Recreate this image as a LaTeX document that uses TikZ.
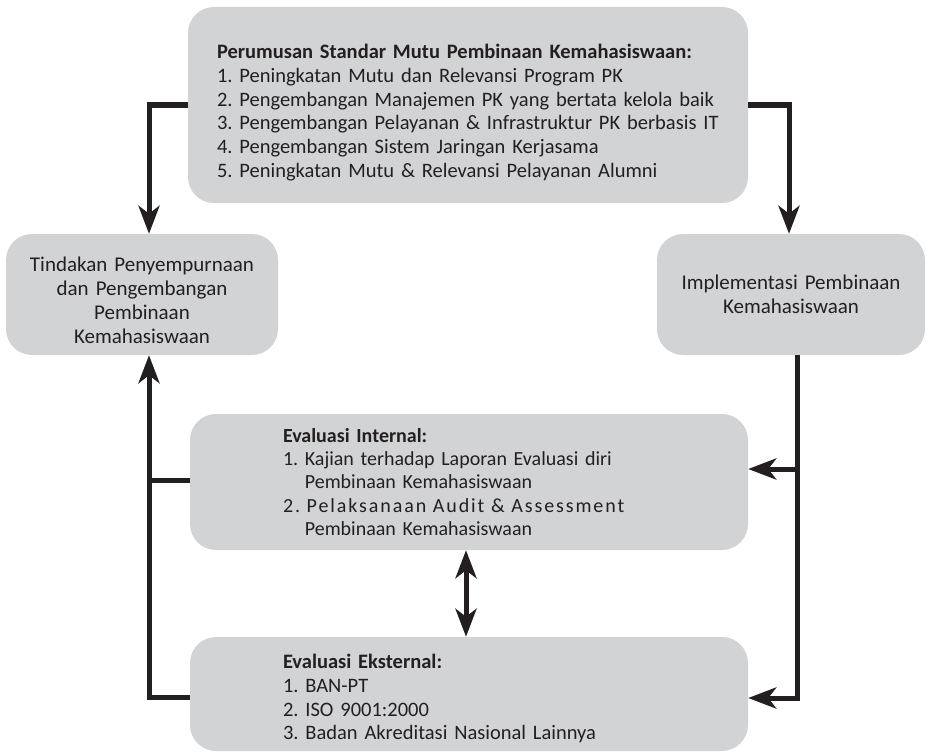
\documentclass[tikz,border=0pt]{standalone}
\usepackage{fontspec}
\setmainfont{Carlito}
\newfontfamily\renggang[LetterSpace=9.5]{Carlito}
\usetikzlibrary{arrows.meta, positioning}
\definecolor{kotak}{RGB}{209,211,212}
\definecolor{garis}{RGB}{35,31,32}
\newcommand\kirix{149}
\newcommand\kananx{797}

\begin{document}
\begin{tikzpicture}[x=1pt, y=-1pt,
    box/.style={rounded corners=26pt, fill=kotak, text=garis, inner ysep=0pt,
        font=\fontsize{20.5}{23.8}\selectfont\frenchspacing},
    turun/.style={text height=#1},
    line/.style={line width=5pt, draw=garis},
    arrow/.style={line, -{Stealth[length=28pt, width=21pt, inset=8pt]}},
    dblarrow/.style={line, {Stealth[length=28pt, width=21pt, inset=8pt]}-{Stealth[length=28pt, width=21pt, inset=8pt]}}]

    \useasboundingbox (0,0) rectangle (927,752);

    % Perumusan
    \node at (468, 105) [box, minimum width=560pt, minimum height=196pt, text width=502pt, inner xsep=29pt, align=left, turun=29.5pt] (perumusan) {%
        \textbf{Perumusan Standar Mutu Pembinaan Kemahasiswaan:}\\
        1. Peningkatan Mutu dan Relevansi Program PK\\
        2. Pengembangan Manajemen PK yang bertata kelola baik\\
        3. Pengembangan Pelayanan \& Infrastruktur PK berbasis IT\\
        4. Pengembangan Sistem Jaringan Kerjasama\\
        5. Peningkatan Mutu \& Relevansi Pelayanan Alumni};

    % Tindakan dan Implementasi
    \node at (142, 294.5) [box, minimum width=272pt, minimum height=121pt, text width=250pt, align=center, font=\fontsize{21}{24}\selectfont, turun=25.5pt] (tindakan) {%
        Tindakan Penyempurnaan\\ dan Pengembangan\\ Pembinaan\\ Kemahasiswaan};
    \node at (791, 294.5) [box, minimum width=268pt, minimum height=121pt, text width=250pt, align=center, font=\fontsize{21}{24}\selectfont] (implementasi) {%
        Implementasi Pembinaan\\ Kemahasiswaan};

    % Evaluasi
    \node at (469, 482) [box, minimum width=558pt, minimum height=136pt, text width=372pt, inner xsep=93pt, align=left, font=\fontsize{20}{23.3}\selectfont\frenchspacing] (internal) {%
        \textbf{Evaluasi Internal:}\\
        1. Kajian terhadap Laporan Evaluasi diri\\
        \phantom{1. }Pembinaan Kemahasiswaan\\
        {\renggang 2. Pelaksanaan Audit \& Assessment}\\
        \phantom{2. }Pembinaan Kemahasiswaan};
    \node at (469, 694) [box, minimum width=558pt, minimum height=114pt, text width=372pt, inner xsep=93pt, align=left, turun=23.5pt] (eksternal) {%
        \textbf{Evaluasi Eksternal:}\\
        1. BAN-PT\\
        2. ISO 9001:2000\\
        3. Badan Akreditasi Nasional Lainnya};

    \coordinate (cabangkanan) at (\kananx, 469);
    \coordinate (ujungkanan) at (\kananx, 698);
    \coordinate (cabangkiri) at (\kirix, 480);
    \coordinate (ujungkiri) at (\kirix, 697);

    \draw[arrow] (perumusan.west) -| ([xshift=7pt]tindakan.north);
    \draw[arrow] (perumusan.east) -| ([xshift=-2pt]implementasi.north);

    \draw[arrow] ([xshift=6pt]implementasi.south) |- (eksternal.east |- ujungkanan);
    \draw[arrow] (cabangkanan) -- (internal.east |- cabangkanan);

    \draw[arrow] (eksternal.west |- ujungkiri) -| ([xshift=7pt]tindakan.south);
    \draw[line] (internal.west |- cabangkiri) -- (cabangkiri);

    \draw[dblarrow] ([xshift=-3pt]internal.south) -- ([xshift=-3pt]eksternal.north);

\end{tikzpicture}
\end{document}
